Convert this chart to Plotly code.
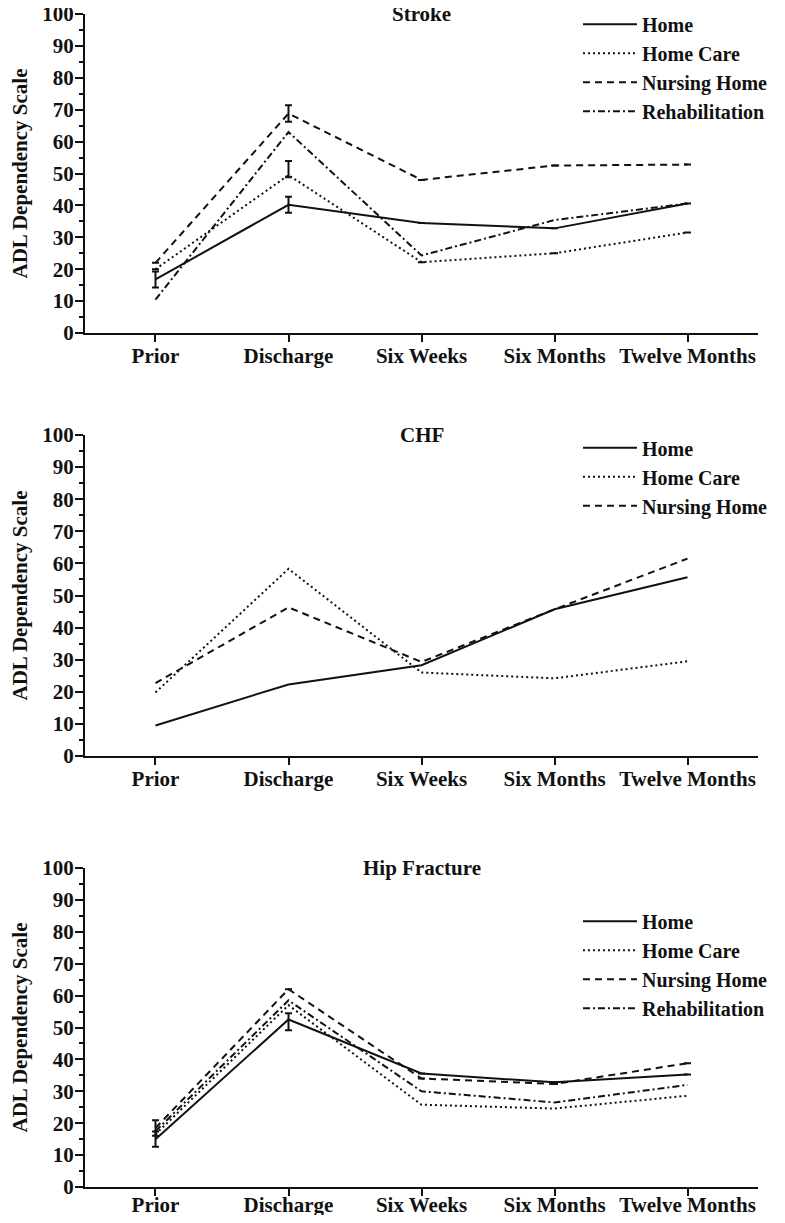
import plotly.graph_objects as go

# ---------------- data ----------------
time_points = ["Prior", "Discharge", "Six Weeks", "Six Months", "Twelve Months"]
series_names = ["Home", "Home Care", "Nursing Home", "Rehabilitation"]
panel_titles = ["Stroke", "CHF", "Hip Fracture"]
y_ticks = [0, 10, 20, 30, 40, 50, 60, 70, 80, 90, 100]

stroke_home = [16.8, 40.2, 34.5, 32.8, 40.6]
stroke_home_care = [20.0, 49.5, 22.2, 25.0, 31.5]
stroke_nursing = [22.0, 68.8, 48.0, 52.5, 52.8]
stroke_rehab = [10.5, 63.0, 24.3, 35.4, 40.6]

stroke_home_err = [2.5, 2.5, None, None, None]
stroke_home_care_err_plus = [None, 4.4, None, None, None]
stroke_home_care_err_minus = [None, 0.7, None, None, None]
stroke_nursing_err = [None, 2.6, None, None, None]

chf_home = [9.5, 22.3, 28.3, 45.7, 55.7]
chf_home_care = [19.8, 58.3, 26.0, 24.2, 29.5]
chf_nursing = [22.7, 46.3, 29.3, 45.7, 61.5]

hip_home = [15.0, 52.5, 35.6, 32.8, 35.3]
hip_home_care = [16.5, 57.0, 25.8, 24.6, 28.6]
hip_nursing = [18.5, 62.0, 34.0, 32.3, 38.8]
hip_rehab = [17.5, 58.5, 30.0, 26.5, 32.0]

hip_home_err_plus = [2.4, 2.0, None, None, None]
hip_home_err_minus = [2.4, 3.4, None, None, None]
hip_nursing_err = [2.4, None, None, None, None]

# ---------------- styles ----------------
FONT = "Liberation Serif, Times New Roman, serif"
INK = "#111111"
dashes = {
    "Home": "solid",
    "Home Care": "2px,3px",
    "Nursing Home": "7px,5px",
    "Rehabilitation": "7px,3px,2px,3px",
}

fig = go.Figure()


def add_series(name, values, panel, err_plus=None, err_minus=None):
    kw = {}
    if err_plus is not None:
        kw["error_y"] = dict(
            type="data",
            array=err_plus,
            arrayminus=err_minus if err_minus is not None else err_plus,
            symmetric=False,
            color=INK,
            thickness=2,
            width=3.5,
        )
    fig.add_trace(
        go.Scatter(
            x=time_points,
            y=values,
            name=name,
            mode="lines",
            line=dict(color=INK, width=2, dash=dashes[name]),
            xaxis="x" if panel == 1 else f"x{panel}",
            yaxis="y" if panel == 1 else f"y{panel}",
            legend="legend" if panel == 1 else f"legend{panel}",
            **kw,
        )
    )


add_series("Home", stroke_home, 1, stroke_home_err)
add_series("Home Care", stroke_home_care, 1, stroke_home_care_err_plus, stroke_home_care_err_minus)
add_series("Nursing Home", stroke_nursing, 1, stroke_nursing_err)
add_series("Rehabilitation", stroke_rehab, 1)

add_series("Home", chf_home, 2)
add_series("Home Care", chf_home_care, 2)
add_series("Nursing Home", chf_nursing, 2)

add_series("Home", hip_home, 3, hip_home_err_plus, hip_home_err_minus)
add_series("Home Care", hip_home_care, 3)
add_series("Nursing Home", hip_nursing, 3, hip_nursing_err)
add_series("Rehabilitation", hip_rehab, 3)

# ---------------- layout ----------------
# The page adds an 8px body margin, so the figure is 16px smaller than the window
# and all pixel positions below are in figure coordinates (page - 8).
W, H = 769, 1207
ML, MR, MT, MB = 77, 19, 6, 28
plot_h = H - MT - MB
bottom_px = H - MB


def frac(top_px, bot_px):
    return [(bottom_px - bot_px) / plot_h, (bottom_px - top_px) / plot_h]


domains = [frac(6, 325), frac(427, 748), frac(860, 1179)]

axis_font = dict(family=FONT, size=21, color=INK, weight="bold")

layout = dict(
    width=W,
    height=H,
    autosize=False,
    margin=dict(l=ML, r=MR, t=MT, b=MB, autoexpand=False),
    paper_bgcolor="white",
    plot_bgcolor="white",
    font=axis_font,
    showlegend=True,
)

legend_tops = [-3.3, 420.2, 893.7]
x_label_standoff = [-4, -4, -9]
for i in range(3):
    sfx = "" if i == 0 else str(i + 1)
    layout["xaxis" + sfx] = dict(
        domain=[0, 1],
        anchor="y" + sfx,
        type="category",
        categoryorder="array",
        categoryarray=time_points,
        range=[-0.53, 4.53],
        showline=True,
        linecolor=INK,
        linewidth=2,
        ticks="outside",
        ticklen=7,
        tickwidth=2,
        tickcolor=INK,
        ticklabelstandoff=x_label_standoff[i],
        ticklabeloverflow="allow",
        showgrid=False,
        zeroline=False,
        tickfont=axis_font,
        fixedrange=True,
    )
    layout["yaxis" + sfx] = dict(
        domain=domains[i],
        anchor="x" + sfx,
        range=[0, 100],
        tickvals=y_ticks,
        showline=True,
        linecolor=INK,
        linewidth=2,
        ticks="outside",
        ticklen=8,
        tickwidth=2,
        tickcolor=INK,
        ticklabelstandoff=-3,
        ticklabeloverflow="allow",
        minor=dict(dtick=5, ticks="outside", ticklen=4, tickwidth=1.5, tickcolor=INK),
        showgrid=False,
        zeroline=False,
        tickfont=axis_font,
        title=dict(text="ADL Dependency Scale", font=axis_font, standoff=22),
        automargin=False,
        fixedrange=True,
    )
    layout["legend" + sfx] = dict(
        x=0.7325,
        xanchor="left",
        y=(bottom_px - legend_tops[i]) / plot_h,
        yanchor="top",
        yref="paper",
        bgcolor="rgba(0,0,0,0)",
        borderwidth=0,
        font=dict(family=FONT, size=20, color=INK, weight="bold"),
        itemwidth=54,
        tracegroupgap=0,
    )

fig.update_layout(**layout)

for i, t in enumerate(panel_titles):
    sfx = "" if i == 0 else str(i + 1)
    fig.add_annotation(
        text=t,
        xref="x" + sfx + " domain",
        yref="y" + sfx + " domain",
        x=0.5,
        y=1.0,
        xanchor="center",
        yanchor="middle",
        showarrow=False,
        font=axis_font,
    )

fig.write_html(
    "out.html",
    config={"displayModeBar": False, "responsive": False},
)
